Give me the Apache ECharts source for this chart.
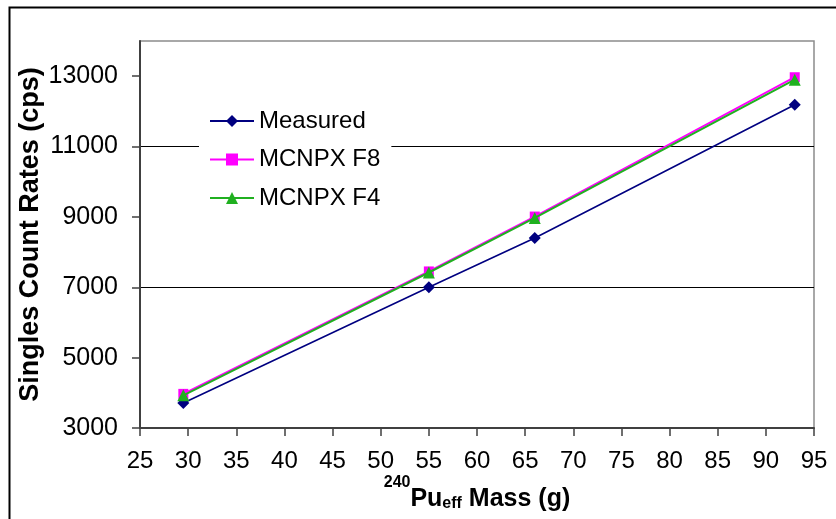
<!DOCTYPE html>
<html>
<head>
<meta charset="utf-8">
<script src="https://cdn.jsdelivr.net/npm/echarts@6/dist/echarts.min.js"></script>
<style>
  html, body { margin: 0; padding: 0; background: #fff; }
  #chart { width: 836px; height: 519px; }
</style>
</head>
<body>
<div id="chart"></div>
<script>
// Effective 240Pu mass (g) of each sample
const massG = [29.5, 55, 66, 93];
// Singles count rates (cps)
const measured = [3710, 7000, 8400, 12190];
const mcnpxF8 = [3970, 7450, 9010, 12970];
const mcnpxF4 = [3930, 7420, 8970, 12900];
// Axis tick labels
const xTicks = [25, 30, 35, 40, 45, 50, 55, 60, 65, 70, 75, 80, 85, 90, 95];
const yTicks = [3000, 5000, 7000, 9000, 11000, 13000];

const FONT = "'Liberation Sans', Arial, sans-serif";

function pairs(xs, ys) {
  return xs.map((x, i) => [x, ys[i]]);
}

const chart = echarts.init(document.getElementById('chart'), null, { renderer: 'canvas' });

chart.setOption({
  backgroundColor: '#ffffff',
  animation: false,
  textStyle: { fontFamily: FONT },
  graphic: [{
    type: 'rect',
    left: 7, top: 5,
    shape: { width: 860, height: 560 },
    style: { fill: null, stroke: '#000', lineWidth: 2 },
    silent: true, z: -1
  }],
  grid: {
    left: 140, right: 22, top: 41, bottom: 91,
    show: true,
    borderColor: '#8c8c8c', borderWidth: 1.5,
    backgroundColor: 'transparent'
  },
  legend: {
    orient: 'vertical',
    left: 199, top: 101,
    padding: [8, 11, 8, 10],
    backgroundColor: '#ffffff',
    itemWidth: 44, itemHeight: 15,
    itemGap: 14.5,
    textStyle: { fontSize: 24, lineHeight: 24, color: '#000', fontFamily: FONT },
    data: ['Measured', 'MCNPX F8', 'MCNPX F4']
  },
  xAxis: {
    type: 'value',
    min: xTicks[0], max: xTicks[xTicks.length - 1], interval: 5,
    axisLine: { show: true, onZero: false, lineStyle: { color: '#404040', width: 2 } },
    axisTick: { show: true, inside: false, length: 8, lineStyle: { color: '#404040', width: 1.5 } },
    axisLabel: { fontSize: 24, color: '#000', margin: 21, fontFamily: FONT, formatter: (v) => String(v) },
    splitLine: { show: false },
    name: '{sup|240}{b|Pu}{sub|eff}{b| Mass (g)}',
    nameLocation: 'middle',
    nameGap: 47,
    nameMoveOverlap: false,
    nameTextStyle: {
      rich: {
        b: { fontSize: 25, fontWeight: 'bold', color: '#000', lineHeight: 49, fontFamily: FONT },
        sup: { fontSize: 16, fontWeight: 'bold', color: '#000', lineHeight: 16, verticalAlign: 'top', fontFamily: FONT },
        sub: { fontSize: 16, fontWeight: 'bold', color: '#000', lineHeight: 16, padding: [9, 0, 0, 0], fontFamily: FONT }
      }
    }
  },
  yAxis: {
    type: 'value',
    min: 3000, max: 14000, interval: 1000,
    axisLine: { show: true, onZero: false, lineStyle: { color: '#404040', width: 2 } },
    axisTick: { show: true, inside: false, length: 8, customValues: yTicks, lineStyle: { color: '#404040', width: 1.5 } },
    axisLabel: { fontSize: 25, color: '#000', margin: 22, customValues: yTicks, fontFamily: FONT, formatter: (v) => String(v) },
    // every other 1000-step line is drawn, giving gridlines at 5000, 7000, ... 13000
    splitLine: { show: true, lineStyle: { color: ['#000000', 'rgba(0,0,0,0)'], width: 1 } },
    name: 'Singles Count Rates (cps)',
    nameLocation: 'middle',
    nameGap: 96,
    nameMoveOverlap: false,
    nameTextStyle: { fontSize: 27, fontWeight: 'bold', color: '#000', fontFamily: FONT }
  },
  series: [
    {
      name: 'Measured', type: 'line',
      data: pairs(massG, measured),
      symbol: 'diamond', symbolSize: 12,
      lineStyle: { color: '#000080', width: 1.6 },
      itemStyle: { color: '#000080' },
      z: 3
    },
    {
      name: 'MCNPX F8', type: 'line',
      data: pairs(massG, mcnpxF8),
      symbol: 'rect', symbolSize: 10,
      lineStyle: { color: '#ff00ff', width: 2 },
      itemStyle: { color: '#ff00ff' },
      z: 4
    },
    {
      name: 'MCNPX F4', type: 'line',
      data: pairs(massG, mcnpxF4),
      symbol: 'triangle', symbolSize: 12,
      lineStyle: { color: '#20b020', width: 2 },
      itemStyle: { color: '#20b020' },
      z: 5
    }
  ]
});
</script>
</body>
</html>
